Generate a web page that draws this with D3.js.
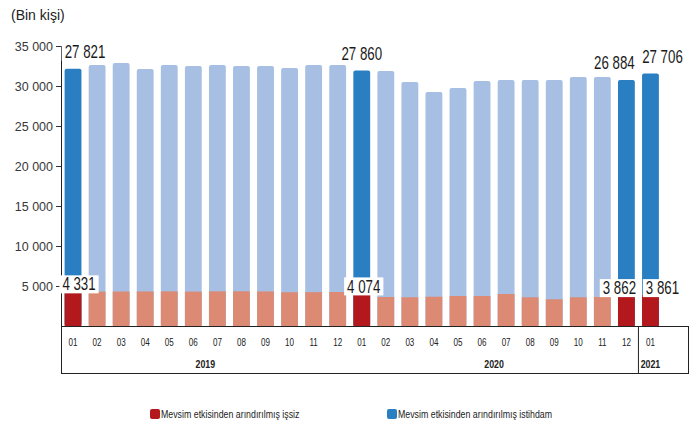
<!DOCTYPE html>
<html lang="tr">
<head>
<meta charset="utf-8">
<style>
  body { margin: 0; background: #fff; }
  svg { display: block; font-family: "Liberation Sans", Arial, sans-serif; }
</style>
</head>
<body>
<div id="chart"></div>
<script src="https://d3js.org/d3.v7.min.js"></script>
<script>
// monthly values, thousand persons (seasonally adjusted)
var months = ["01","02","03","04","05","06","07","08","09","10","11","12",
              "01","02","03","04","05","06","07","08","09","10","11","12","01"];
var years = ["2019","2019","2019","2019","2019","2019","2019","2019","2019","2019","2019","2019",
             "2020","2020","2020","2020","2020","2020","2020","2020","2020","2020","2020","2020","2021"];
var unemployed = [4331, 4300, 4310, 4320, 4330, 4300, 4330, 4340, 4320, 4220, 4230, 4250,
                  4074, 3620, 3590, 3660, 3750, 3750, 4000, 3590, 3340, 3590, 3620, 3862, 3861];
var employed = [27821, 28330, 28570, 27810, 28300, 28200, 28300, 28160, 28180, 28030, 28400, 28380,
                27860, 28260, 26910, 25590, 26000, 26880, 26750, 27160, 27410, 27540, 27510, 26884, 27706];
var labelled = [0, 12, 23, 24];
var yTicks = [5000, 10000, 15000, 20000, 25000, 30000, 35000];
var yearLabels = ["2019", "2020", "2021"];
var legendNames = ["Mevsim etkisinden arındırılmış işsiz", "Mevsim etkisinden arındırılmış istihdam"];

var W = 698, H = 425;
var colors = {
  emp: "#a6bfe3", empHi: "#2a7fc3",
  unemp: "#dc8a74", unempHi: "#b3181c"
};

var data = months.map(function(m, i) {
  return { i: i, m: m, year: years[i], u: unemployed[i], e: employed[i], hi: labelled.indexOf(i) >= 0 };
});

var svg = d3.select("#chart").append("svg")
  .attr("width", W).attr("height", H);

svg.append("rect").attr("width", W).attr("height", H).attr("fill", "#fff");

var x = d3.scaleBand()
  .domain(d3.range(data.length))
  .range([61, 662.5])
  .paddingInner(0.3)
  .paddingOuter(0.15);

var y = d3.scaleLinear()
  .domain([0, 35000])
  .range([326, 46]);

// squeeze text horizontally (the original uses a narrow face)
function narrow(sel, f) {
  sel.each(function() {
    var w = this.getComputedTextLength();
    this.setAttribute("textLength", w * f);
    this.setAttribute("lengthAdjust", "spacingAndGlyphs");
  });
}

svg.append("text")
  .attr("x", 11).attr("y", 20)
  .attr("font-size", 14).attr("fill", "#222")
  .text("(Bin kişi)");

// y axis
var yAxis = svg.append("g")
  .attr("transform", "translate(61,0)")
  .call(d3.axisLeft(y).tickValues(yTicks).tickSize(5).tickPadding(3)
    .tickFormat(function(d) { return d3.format(",")(d).replace(",", " "); }));
yAxis.select(".domain").remove();
yAxis.selectAll(".tick line").attr("stroke", "#333");
yAxis.selectAll(".tick text")
  .attr("font-size", 12.5).attr("fill", "#383838")
  .attr("font-family", "'Liberation Sans', Arial, sans-serif");

// bars: employed stacked on unemployed
var bars = svg.append("g");
bars.selectAll("rect.emp")
  .data(data).enter().append("rect")
  .attr("class", "emp")
  .attr("x", function(d) { return x(d.i); })
  .attr("width", x.bandwidth())
  .attr("y", function(d) { return y(d.u + d.e); })
  .attr("height", function(d) { return y(0) - y(d.u + d.e); })
  .attr("rx", 2)
  .attr("fill", function(d) { return d.hi ? colors.empHi : colors.emp; });

bars.selectAll("rect.unemp")
  .data(data).enter().append("rect")
  .attr("class", "unemp")
  .attr("x", function(d) { return x(d.i); })
  .attr("width", x.bandwidth())
  .attr("y", function(d) { return y(d.u); })
  .attr("height", function(d) { return y(0) - y(d.u); })
  .attr("fill", function(d) { return d.hi ? colors.unempHi : colors.unemp; });

// axis frame
var frame = svg.append("g").attr("stroke", "#222").attr("stroke-width", 1).attr("fill", "none");
var sepX = (x(23) + x.bandwidth() + x(24)) / 2;
frame.append("line").attr("x1", 61.5).attr("x2", 61.5).attr("y1", 46).attr("y2", 374);
frame.append("line").attr("x1", 61).attr("x2", 688).attr("y1", 326.5).attr("y2", 326.5);
frame.append("line").attr("x1", sepX).attr("x2", sepX).attr("y1", 326).attr("y2", 374);
frame.append("line").attr("x1", 688.5).attr("x2", 688.5).attr("y1", 326).attr("y2", 374);
frame.append("line").attr("x1", 61).attr("x2", 688).attr("y1", 373.5).attr("y2", 373.5);

// month labels
svg.append("g").selectAll("text")
  .data(data).enter().append("text")
  .attr("x", function(d) { return x(d.i) + x.bandwidth() / 2; })
  .attr("y", 346)
  .attr("text-anchor", "middle")
  .attr("font-size", 11.5).attr("fill", "#222")
  .text(function(d) { return d.m; })
  .call(narrow, 0.7);

// year labels
svg.append("g").selectAll("text")
  .data(yearLabels).enter().append("text")
  .attr("x", function(yr) {
    var idx = data.filter(function(d) { return d.year === yr; });
    var a = x(idx[0].i), b = x(idx[idx.length - 1].i) + x.bandwidth();
    return (a + b) / 2;
  })
  .attr("y", 368)
  .attr("text-anchor", "middle")
  .attr("font-size", 11).attr("font-weight", "bold").attr("fill", "#222")
  .text(function(yr) { return yr; })
  .call(narrow, 0.8);

// value labels with white boxes
var fmt = function(v) { return d3.format(",")(v).replace(",", " "); };
var empShift = { 0: 12, 12: 0, 23: -12, 24: 12 };
var unempShift = { 0: 6, 12: 2, 23: -7, 24: 12 };
var squeeze = 0.76;

function valueLabel(d, value, cy, shift) {
  var cx = x(d.i) + x.bandwidth() / 2 + shift;
  var g = svg.append("g").attr("transform", "translate(" + cx + "," + cy + ")");
  var box = g.append("rect").attr("fill", "#fff");
  var t = g.append("text")
    .attr("transform", "scale(" + squeeze + ",1)")
    .attr("dy", "0.35em")
    .attr("text-anchor", "middle")
    .attr("font-size", 17.5).attr("fill", "#1a1a1a")
    .text(fmt(value));
  var w = t.node().getComputedTextLength() * squeeze;
  box.attr("x", -w / 2 - 3).attr("y", -9).attr("width", w + 6).attr("height", 18);
}

data.filter(function(d) { return d.hi; }).forEach(function(d) {
  valueLabel(d, d.e, y(d.u + d.e) - 17, empShift[d.i]);
  valueLabel(d, d.u, y(d.u) - 7, unempShift[d.i]);
});

// legend
var legend = svg.append("g");
[[150, colors.unempHi], [387, colors.empHi]].forEach(function(p, k) {
  legend.append("rect")
    .attr("x", p[0]).attr("y", 409).attr("width", 10).attr("height", 10)
    .attr("rx", 2).attr("fill", p[1]);
  legend.append("text")
    .attr("x", p[0] + 11).attr("y", 418)
    .attr("font-size", 11).attr("fill", "#222")
    .text(legendNames[k])
    .call(narrow, 0.8);
});
</script>
</body>
</html>
